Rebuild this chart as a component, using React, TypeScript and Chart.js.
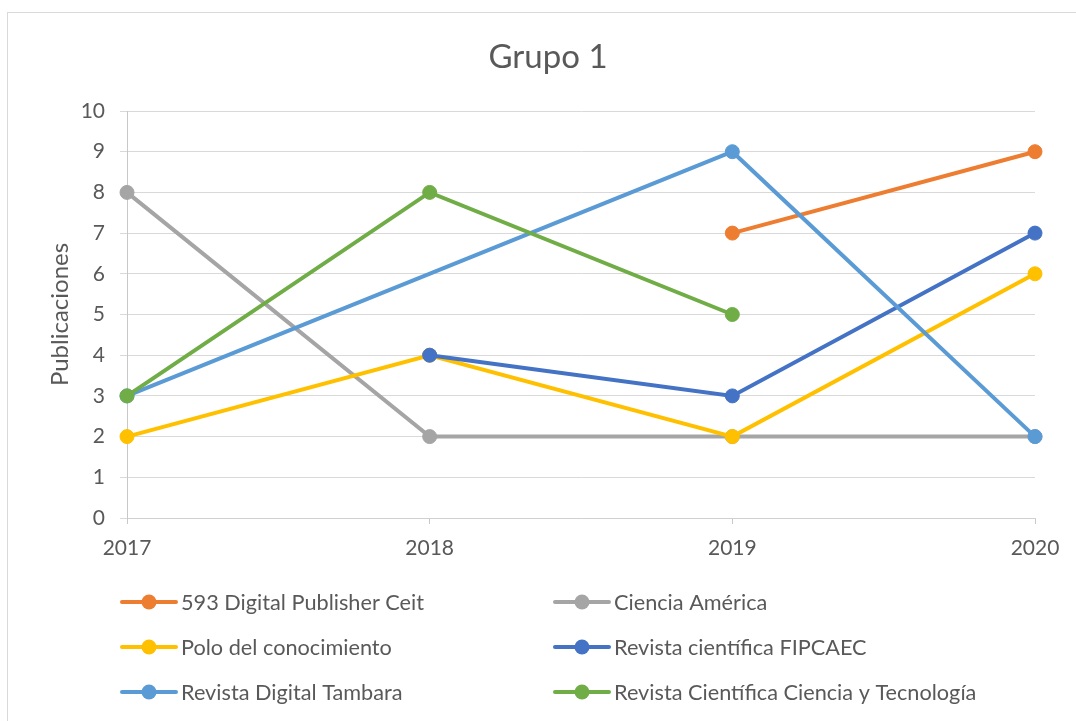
import React, { useEffect, useRef } from "react";
import { Chart, registerables } from "chart.js";

Chart.register(...registerables);

const years = ["2017", "2018", "2019", "2020"];
const seriesNames = [
  "593 Digital Publisher Ceit",
  "Ciencia América",
  "Polo del conocimiento",
  "Revista científica FIPCAEC",
  "Revista Digital Tambara",
  "Revista Científica Ciencia y Tecnología",
];
const publisher593: (number | null)[] = [null, null, 7, 9];
const cienciaAmerica: (number | null)[] = [8, 2, 2, 2];
const poloConocimiento: (number | null)[] = [2, 4, 2, 6];
const fipcaec: (number | null)[] = [null, 4, 3, 7];
const tambara: (number | null)[] = [3, null, 9, 2];
const cienciaTecnologia: (number | null)[] = [3, 8, 5, null];
const seriesColors = ["#ED7D31", "#A5A5A5", "#FFC000", "#4472C4", "#5B9BD5", "#70AD47"];
const chartTitle = "Grupo 1";
const yAxisTitle = "Publicaciones";
const yMin = 0;
const yMax = 10;
const yStep = 1;

const FONT = "Lato";
const TEXT = "#595959";

export default function App() {
  const ref = useRef<HTMLCanvasElement | null>(null);

  useEffect(() => {
    document.body.style.margin = "0";
    document.body.style.overflow = "hidden";
    const canvas = ref.current;
    if (!canvas) return;
    const allSeries = [publisher593, cienciaAmerica, poloConocimiento, fipcaec, tambara, cienciaTecnologia];

    const overlay = {
      id: "overlay",
      afterDraw(chart: any) {
        const ctx = chart.ctx as CanvasRenderingContext2D;
        ctx.save();
        // title
        ctx.fillStyle = TEXT;
        ctx.font = `33px ${FONT}`;
        ctx.textAlign = "center";
        ctx.textBaseline = "middle";
        ctx.fillText(chartTitle, 548, 57);
        // legend
        const colStart = [122, 555];
        const rowY = [602, 647, 692];
        ctx.font = `21.7px ${FONT}`;
        ctx.textAlign = "left";
        seriesNames.forEach((name, i) => {
          const col = i % 2;
          const row = Math.floor(i / 2);
          const x0 = colStart[col];
          const y = rowY[row];
          ctx.strokeStyle = seriesColors[i];
          ctx.lineWidth = 4;
          ctx.lineCap = "round";
          ctx.beginPath();
          ctx.moveTo(x0, y);
          ctx.lineTo(x0 + 54, y);
          ctx.stroke();
          ctx.fillStyle = seriesColors[i];
          ctx.beginPath();
          ctx.arc(x0 + 27, y, 7.5, 0, Math.PI * 2);
          ctx.fill();
          ctx.fillStyle = TEXT;
          ctx.fillText(name, x0 + 59, y + 1);
        });
        ctx.restore();
      },
    };

    const chart = new Chart(canvas, {
      type: "line",
      data: {
        labels: years,
        datasets: seriesNames.map((name, i) => ({
          label: name,
          data: allSeries[i],
          borderColor: seriesColors[i],
          backgroundColor: seriesColors[i],
          borderWidth: 4,
          pointRadius: 7,
          pointBorderWidth: 1,
          pointBackgroundColor: seriesColors[i],
          pointBorderColor: seriesColors[i],
          tension: 0,
          spanGaps: true,
          order: -i,
        })),
      },
      options: {
        responsive: false,
        animation: false,
        layout: { padding: { top: 111, right: 41, bottom: 163, left: 0 } },
        plugins: {
          legend: { display: false },
          title: { display: false },
          tooltip: { enabled: false },
        },
        scales: {
          x: {
            type: "category",
            offset: false,
            grid: { drawOnChartArea: false, drawTicks: true, tickLength: 6, color: "#c8c8c8" },
            border: { display: true, color: "#d0d0d0" },
            ticks: { font: { family: FONT, size: 21 }, color: TEXT, padding: 12, maxRotation: 0, autoSkip: false },
            afterFit: (s: any) => {
              s.height = 40;
            },
          },
          y: {
            min: yMin,
            max: yMax,
            ticks: { stepSize: yStep, font: { family: FONT, size: 21 }, color: TEXT, padding: 15 },
            grid: { color: "#d9d9d9", tickLength: 7, lineWidth: 1 },
            border: { display: true, color: "#c8c8c8" },
            title: {
              display: true,
              text: yAxisTitle,
              font: { family: FONT, size: 24 },
              color: TEXT,
              padding: { top: 46, bottom: 0 },
            },
            afterFit: (s: any) => {
              s.width = 127;
            },
          },
        },
      },
      plugins: [overlay],
    });
    return () => chart.destroy();
  }, []);

  return (
    <div style={{ position: "fixed", left: 0, top: 0, width: 1076, height: 721, overflow: "hidden", background: "#fff" }}>
      <div
        style={{
          position: "absolute",
          left: 7,
          top: 12,
          width: 1200,
          height: 900,
          border: "1px solid #d9d9d9",
          boxSizing: "border-box",
        }}
      />
      <canvas ref={ref} width={1076} height={721} style={{ position: "absolute", left: 0, top: 0, width: 1076, height: 721 }} />
    </div>
  );
}
